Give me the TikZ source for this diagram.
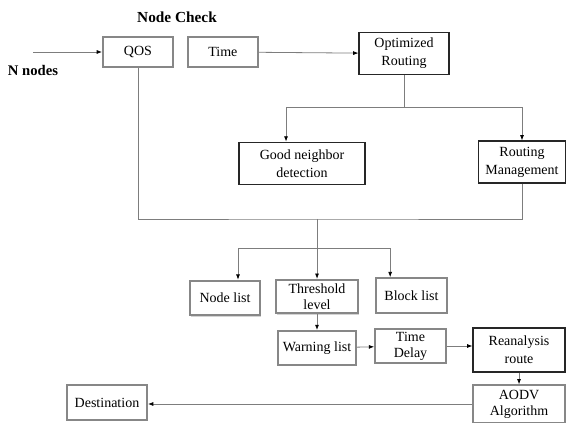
\documentclass[tikz,border=0pt]{standalone}
\usepackage{fontspec}
\setmainfont{Liberation Serif}
\usetikzlibrary{arrows.meta,positioning,shadows}
\definecolor{linegray}{RGB}{125,125,125}
\definecolor{framegray}{RGB}{135,135,135}

\begin{document}
\begin{tikzpicture}[x=0.75pt,y=-0.75pt,
    font=\fontsize{10.5}{13.5}\selectfont,
    box/.style={rectangle, draw=black!85, line width=0.8pt, fill=white, align=center, inner sep=1pt},
    softbox/.style={rectangle, draw=framegray, line width=1.4pt, fill=white, align=center, inner sep=1pt,
        drop shadow={opacity=0.35, shadow xshift=1pt, shadow yshift=-1pt}},
    tight/.style={font=\fontsize{10.5}{12}\selectfont, inner sep=0pt},
    conn/.style={draw=linegray, line width=0.6pt},
    arr/.style={conn, -{Latex[black, length=4pt, width=3pt]}}]
\useasboundingbox (0,0) rectangle (566,423);

% headings
\node[font=\fontsize{11.5}{14}\selectfont\bfseries] (title) at (177,17) {Node Check};
\node[font=\fontsize{11}{13}\selectfont\bfseries] (nnodes) at (33,70) {N nodes};
\coordinate (src) at (33,52);

% node check and routing
\node[softbox, minimum width=52.5pt, minimum height=22.5pt] (qos) at (138,52) {QOS};
\node[softbox, minimum width=52.5pt, minimum height=22.5pt, right=9.75pt of qos] (time) {Time};
\node[box, minimum width=67.5pt, minimum height=32pt] (optr) at (404,53.5) {Optimized\\Routing};
\node[box, minimum width=94.5pt, minimum height=32pt] (gnd) at (302,163.5) {Good neighbor\\detection};
\node[box, minimum width=65pt, minimum height=31.5pt] (rm) at (522,162) {Routing\\Management};

% lists
\node[softbox, minimum width=52.5pt, minimum height=26pt] (nlist) at (225,298) {Node list};
\node[softbox, tight, minimum width=61.5pt, minimum height=25pt] (thr) at (317,296.5) {Threshold\\level};
\node[softbox, minimum width=53pt, minimum height=26pt] (blist) at (411.5,295.5) {Block list};
\node[softbox, minimum width=58.5pt, minimum height=25.5pt, below=12pt of thr] (warn) {Warning list};
\node[softbox, tight, minimum width=53pt, minimum height=25.5pt] (tdel) at (410.5,346) {Time\\Delay};
\node[box, minimum width=69pt, minimum height=33pt] (rean) at (519,350) {Reanalysis\\route};
\node[softbox, tight, minimum width=69pt, minimum height=28pt] (aodv) at (519,404) {AODV\\Algorithm};
\node[softbox, minimum width=60pt, minimum height=26pt] (dest) at (107,402.5) {Destination};

% connectors
\draw[arr] (src) -- (qos);
\draw[arr] (time) -- (optr);
\coordinate (split) at (404,107);
\draw[conn] (optr) -- (split);
\draw[arr] (split) -| ([xshift=-12pt]gnd.north);
\draw[arr] (split) -| (rm);
\coordinate (bus) at (317,219);
\draw[conn] (rm) |- (bus) -| (qos);
\coordinate (fork) at (317,248);
\draw[conn] (bus) -- (fork);
\draw[arr] (fork) -| ([xshift=9.75pt]nlist.north);
\draw[arr] (fork) -- (thr);
\draw[arr] (fork) -| ([xshift=-16pt]blist.north);
\draw[arr] (thr) -- (warn);
\draw[arr] (warn) -- (tdel);
\draw[arr] (tdel.east) -- (tdel.east -| rean.west);
\draw[arr] (rean) -- (aodv);
\draw[arr] (aodv.west) -- (aodv.west -| dest.east);
\end{tikzpicture}
\end{document}
